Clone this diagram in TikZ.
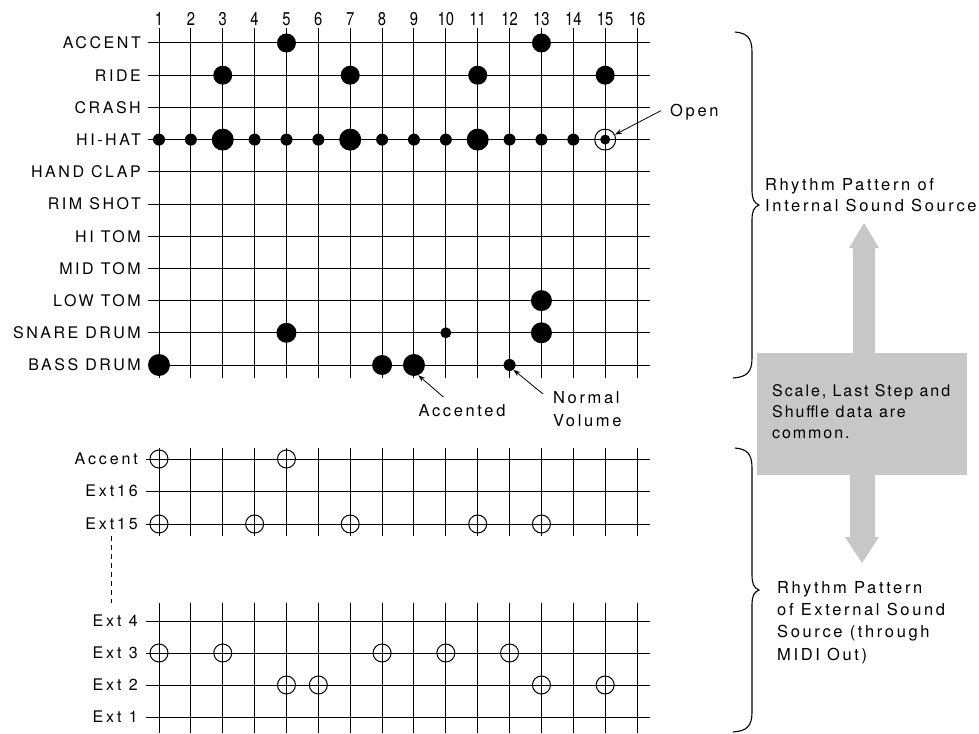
\documentclass[tikz,border=0pt]{standalone}
\usepackage{fontspec}
\setmainfont{TeX Gyre Heros}
\usetikzlibrary{arrows.meta,positioning}

\begin{document}
\begin{tikzpicture}[x=1pt,y=-1pt,
    gridline/.style={line width=1pt},
    lbl/.style={anchor=east,inner sep=0pt,font=\fontsize{16}{18}\selectfont\addfontfeature{LetterSpace=16}},
    extlbl/.style={lbl,font=\fontsize{16}{18}\selectfont\addfontfeature{LetterSpace=18}},
    num/.style={anchor=base,inner sep=0pt,font=\fontsize{18.5}{20}\selectfont},
    note/.style={inner sep=0pt,align=left,font=\fontsize{16.5}{21}\selectfont\addfontfeature{LetterSpace=16}},
    dot/.style={circle,fill=black,inner sep=0pt,minimum size=#1},
    ring/.style={circle,draw,line width=1pt,inner sep=0pt,minimum size=18pt},
    arrow/.style={-{Stealth[length=7pt,width=5pt]},line width=0.8pt},
    brace/.style={line width=1.1pt},
    greyfill/.style={fill=black!22}]
\useasboundingbox (0,0) rectangle (979,733);

% step numbers and vertical lines
\foreach \i in {1,...,16}{
  \pgfmathsetmacro{\x}{159+(\i-1)*31.87}
  \node[num] (n\i) at (\x,26) {\scalebox{0.8}[1]{\i}};
  \draw[gridline] (\x,28) -- (\x,378);
  \draw[gridline] (\x,448) -- (\x,536);
  \draw[gridline] (\x,603) -- (\x,733);
}

% internal instruments
\foreach \name [count=\j] in {ACCENT,RIDE,CRASH,HI-HAT,HAND CLAP,RIM SHOT,HI TOM,MID TOM,LOW TOM,SNARE DRUM,BASS DRUM}{
  \pgfmathsetmacro{\y}{43+(\j-1)*32.2}
  \node[lbl] (r\j) at (141,\y) {\name};
  \draw[gridline] (148,\y) -- (650,\y);
}

% notes of the internal pattern
\foreach \c/\r/\s in {5/1/19,13/1/19,3/2/19,7/2/19,11/2/19,15/2/19,
    1/4/12,2/4/12,3/4/22,4/4/12,5/4/12,6/4/12,7/4/22,8/4/12,9/4/12,10/4/12,
    11/4/22,12/4/12,13/4/12,14/4/12,15/4/10,
    13/9/21,5/10/20,10/10/11,13/10/21,1/11/22,8/11/20,9/11/22,12/11/12}{
  \pgfmathsetmacro{\x}{159+(\c-1)*31.87}
  \pgfmathsetmacro{\y}{43+(\r-1)*32.2}
  \node[dot=\s pt] (d\c-\r) at (\x,\y) {};
}
\node[ring,minimum size=21pt] (open15) at (d15-4) {};

% external channels
\foreach \name/\y [count=\k] in {Accent/459,Ext16/491,Ext15/524,Ext 4/621,Ext 3/653,Ext 2/685,Ext 1/717}{
  \node[extlbl] (e\k) at (138,\y) {\name};
  \draw[gridline] (146,\y) -- (650,\y);
}
\foreach \c/\y in {1/459,5/459,1/524,4/524,7/524,11/524,13/524,
    1/653,3/653,8/653,10/653,12/653,5/685,6/685,13/685,15/685}{
  \pgfmathsetmacro{\x}{159+(\c-1)*31.87}
  \node[ring] (c\c-\y) at (\x,\y) {};
}
\draw[line width=0.8pt,dash pattern=on 5pt off 4pt,shorten <=6pt,shorten >=12pt]
  (e3.south) -- (e3.south |- e4.north);

% callouts
\node[note,anchor=base west] (open) at (670,117) {Open};
\node[note,anchor=north] (acc) at (462,404) {Accented};
\node[note,anchor=north west,font=\fontsize{16.5}{23}\selectfont\addfontfeature{LetterSpace=16}] (normal) at (553,391) {Normal\\Volume};
\draw[arrow] ([xshift=-9pt,yshift=2pt]open.west) -- (open15.27);
\draw[arrow] ([xshift=25pt,yshift=7pt]acc.north west) -- (d9-11.-67);
\draw[arrow] ([xshift=-10pt,yshift=-3pt]normal.north west) -- (d12-11.-51);

% braces
\draw[brace] (735,32) .. controls (747,33) and (752,38) .. (752,52) -- (752,190)
  .. controls (752,199) and (754,203) .. (759,205) .. controls (754,207) and (752,211) .. (752,220)
  -- (752,358) .. controls (752,372) and (747,377) .. (733,378);
\draw[brace] (735,448) .. controls (747,449) and (752,454) .. (752,468) -- (752,575)
  .. controls (752,584) and (754,588) .. (759,590) .. controls (754,592) and (752,596) .. (752,605)
  -- (752,712) .. controls (752,726) and (747,731) .. (733,732);
\node[note,anchor=west] (intern) at (765,195) {Rhythm Pattern of\\Internal Sound Source};
\node[note,anchor=north west,font=\fontsize{16.5}{22.3}\selectfont\addfontfeature{LetterSpace=16}] (extern) at (777,581)
  {Rhythm Pattern\\of External Sound\\Source (through\\MIDI Out)};

% shared data
\fill[greyfill] (757,353) rectangle (967,475);
\fill[greyfill] (853,353) -- (853,248) -- (849,248) -- (864,223) -- (879,248) -- (875,248) -- (875,353) -- cycle;
\fill[greyfill] (850,475) -- (850,537) -- (845,537) -- (862,563) -- (879,537) -- (875,537) -- (875,475) -- cycle;
\node[note,anchor=north west,font=\fontsize{16}{21}\selectfont\addfontfeature{LetterSpace=12}] (common) at (772,384)
  {Scale, Last Step and\\Shuffle data are\\common.};
\end{tikzpicture}
\end{document}
